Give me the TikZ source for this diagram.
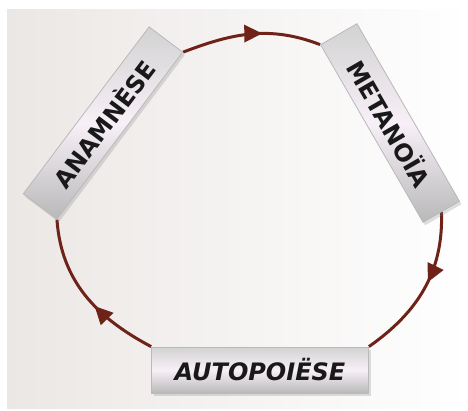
\documentclass[tikz,border=0pt]{standalone}
\usepackage{fontspec}
\newfontfamily\stagefont{DejaVu Sans}
\usetikzlibrary{arrows.meta,decorations.markings,shadows,backgrounds}

\definecolor{cyclered}{HTML}{6E2218}
\definecolor{paper}{HTML}{EBE7E5}

\begin{document}
\begin{tikzpicture}[x=1pt,y=1pt,
        mid arrow/.style={postaction={decorate}, decoration={markings, mark=at position #1 with {\arrow[cyclered]{Triangle[length=18pt,width=17pt]}}}}]
        \tikzstyle{stage}=[rectangle, draw=gray!55, line width=0.8pt, top color=gray!35, bottom color=gray!55, middle color=white!94!violet, minimum height=42pt, inner sep=2pt, text=black!90, font=\stagefont\bfseries\fontsize{24}{24}\selectfont, drop shadow={opacity=0.25, shadow xshift=2pt, shadow yshift=-3pt}]
        \tikzstyle{cycle}=[draw=cyclered, line width=3pt]
        \useasboundingbox (0,0) rectangle (468,410);
        \node[stage, rotate=53, minimum width=209pt] (ana) at (103,287) {ANAMNÈSE};
        \node[stage, rotate=-60, minimum width=205pt] (meta) at (390,287) {METANOÏA};
        \node[stage, minimum width=217pt, minimum height=46pt, font=\stagefont\bfseries\itshape\fontsize{24}{24}\selectfont] (auto) at (260,40) {AUTOPOIËSE};
        \begin{scope}[on background layer]
            \fill[left color=paper, right color=white] (7,2) rectangle (468,400);
            \draw[cycle, mid arrow=0.58] (ana.south east) to[out=21, in=159] (meta.south west);
            \draw[cycle, mid arrow=0.45] (meta.east) to[out=-88, in=35] (auto.north east);
            \draw[cycle, mid arrow=0.42] (auto.north west) to[out=152, in=-86] (ana.south west);
        \end{scope}
    \end{tikzpicture}
\end{document}
